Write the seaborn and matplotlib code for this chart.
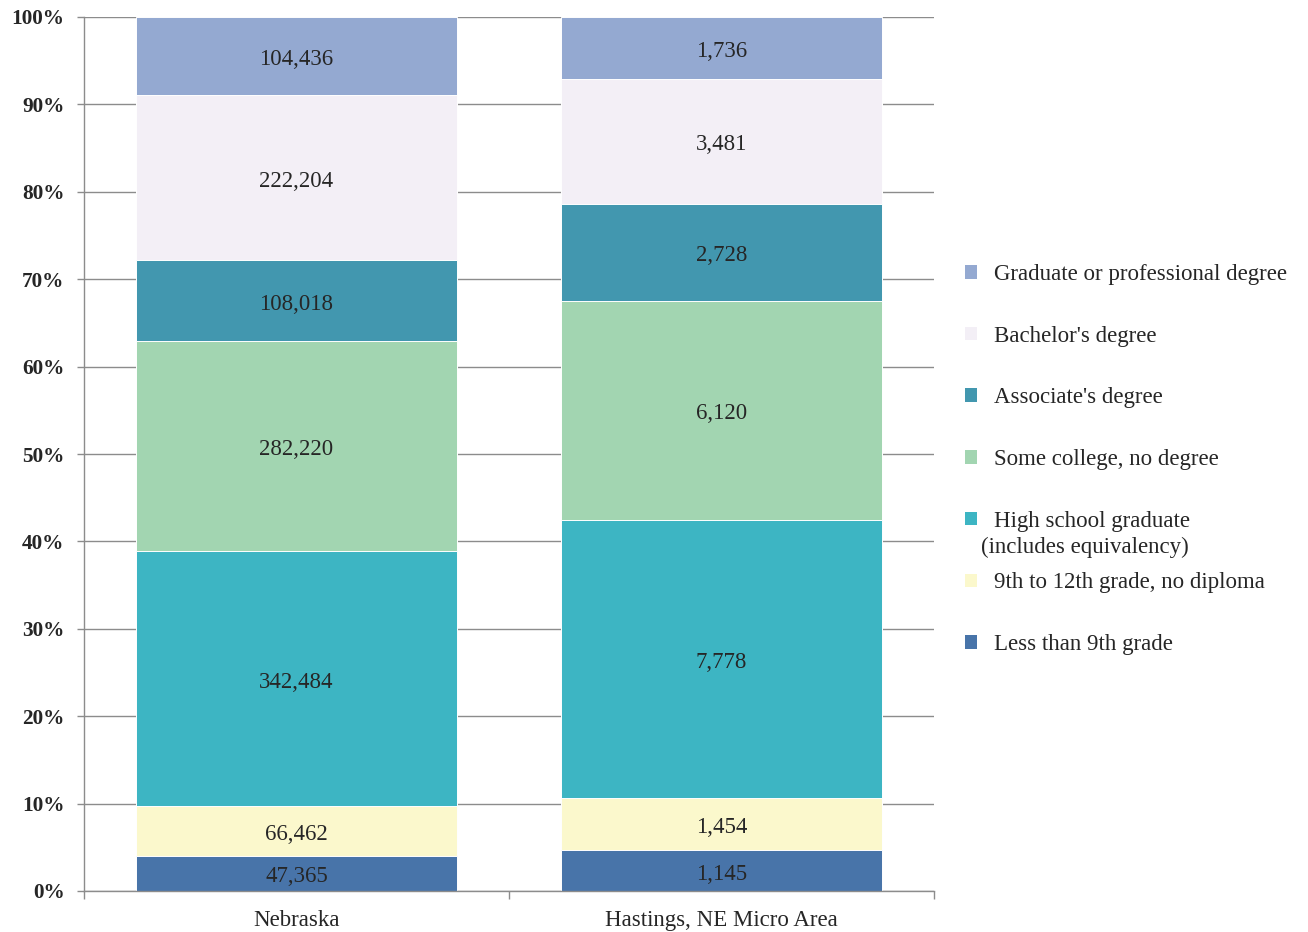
import numpy as np
import pandas as pd
import matplotlib
matplotlib.use("Agg")
import matplotlib.pyplot as plt
import seaborn as sns
from matplotlib.patches import Patch
from matplotlib.ticker import PercentFormatter, FixedLocator

# Educational attainment, population 25 years and over
regions = ["Nebraska", "Hastings, NE Micro Area"]
levels = [
    "Less than 9th grade",
    "9th to 12th grade, no diploma",
    "High school graduate",
    "Some college, no degree",
    "Associate's degree",
    "Bachelor's degree",
    "Graduate or professional degree",
]
less_9th = [47365, 1145]
grade_9_12 = [66462, 1454]
hs_grad = [342484, 7778]
some_college = [282220, 6120]
associate = [108018, 2728]
bachelor = [222204, 3481]
graduate = [104436, 1736]
colors = ["#4874A9", "#FBF8CC", "#3DB5C3", "#A2D5B1", "#4297AF", "#F3EFF6", "#94A9D1"]

series = [less_9th, grade_9_12, hs_grad, some_college, associate, bachelor, graduate]
rows = []
for lvl, vals in zip(levels, series):
    for reg, v in zip(regions, vals):
        rows.append({"region": reg, "level": lvl, "count": v})
df = pd.DataFrame(rows)
df["level"] = pd.Categorical(df["level"], categories=levels, ordered=True)
df = df.sort_values(["region", "level"])
df["pct"] = df["count"] / df.groupby("region")["count"].transform("sum") * 100
df["top"] = df.groupby("region")["pct"].cumsum()
df["mid"] = df["top"] - df["pct"] / 2

sns.set_theme(style="white")
plt.rcParams["font.family"] = ["Liberation Serif", "DejaVu Serif"]
text_color = "#262626"
fs = 16.5

fig = plt.figure(figsize=(13.08, 9.32), dpi=100)
ax = fig.add_axes([84 / 1308, 41 / 932, 850 / 1308, 874 / 932])
ax.set_axisbelow(True)

# stacked bars: draw cumulative tops from the highest segment downward
for lvl, col in reversed(list(zip(levels, colors))):
    sub = df[df["level"] == lvl]
    sns.barplot(data=sub, x="region", y="top", order=regions, color=col,
                width=0.753, edgecolor="white", linewidth=0.7, ax=ax,
                saturation=1, errorbar=None)

for _, r in df.iterrows():
    ax.annotate(f"{r['count']:,}", (regions.index(r["region"]), r["mid"]),
                xytext=(0, -2.5), textcoords="offset points",
                ha="center", va="center", fontsize=fs, color=text_color)

ax.set_xlim(-0.5, 1.5)
ax.set_ylim(0, 100)
ax.set_xlabel("")
ax.set_ylabel("")
ax.yaxis.set_major_locator(FixedLocator(np.arange(0, 101, 10)))
ax.yaxis.set_major_formatter(PercentFormatter(decimals=0))
ax.yaxis.grid(True, color="#8c8c8c", linewidth=1.0)
ax.xaxis.grid(False)
for lab in ax.get_yticklabels():
    lab.set_fontweight("bold")
ax.tick_params(axis="y", which="major", length=5, width=1, color="#8c8c8c",
               labelsize=15.3, pad=9, labelcolor=text_color, left=True)
ax.xaxis.set_minor_locator(FixedLocator([-0.5, 0.5, 1.5]))
ax.tick_params(axis="x", which="major", length=0, labelsize=fs, pad=14,
               labelcolor=text_color)
ax.tick_params(axis="x", which="minor", length=6, width=1, color="#8c8c8c",
               bottom=True)
for side in ["top", "right"]:
    ax.spines[side].set_visible(False)
for side in ["left", "bottom"]:
    ax.spines[side].set_color("#8c8c8c")
    ax.spines[side].set_linewidth(1.0)

handles = [Patch(facecolor=c, edgecolor="none") for c in reversed(colors)]
leg = fig.legend(handles, list(reversed(levels)), loc="upper left",
                 bbox_to_anchor=(965 / 1308, 1 - 264 / 932), frameon=False,
                 fontsize=fs, handlelength=0.53, handleheight=0.53,
                 handletextpad=0.72, labelspacing=1.775, borderpad=0,
                 borderaxespad=0)
for t in leg.get_texts():
    t.set_color(text_color)
fig.text(981 / 1308, 1 - 547 / 932, "(includes equivalency)", fontsize=fs,
         color=text_color, ha="left", va="center")

fig.savefig("out.png", dpi=100)
